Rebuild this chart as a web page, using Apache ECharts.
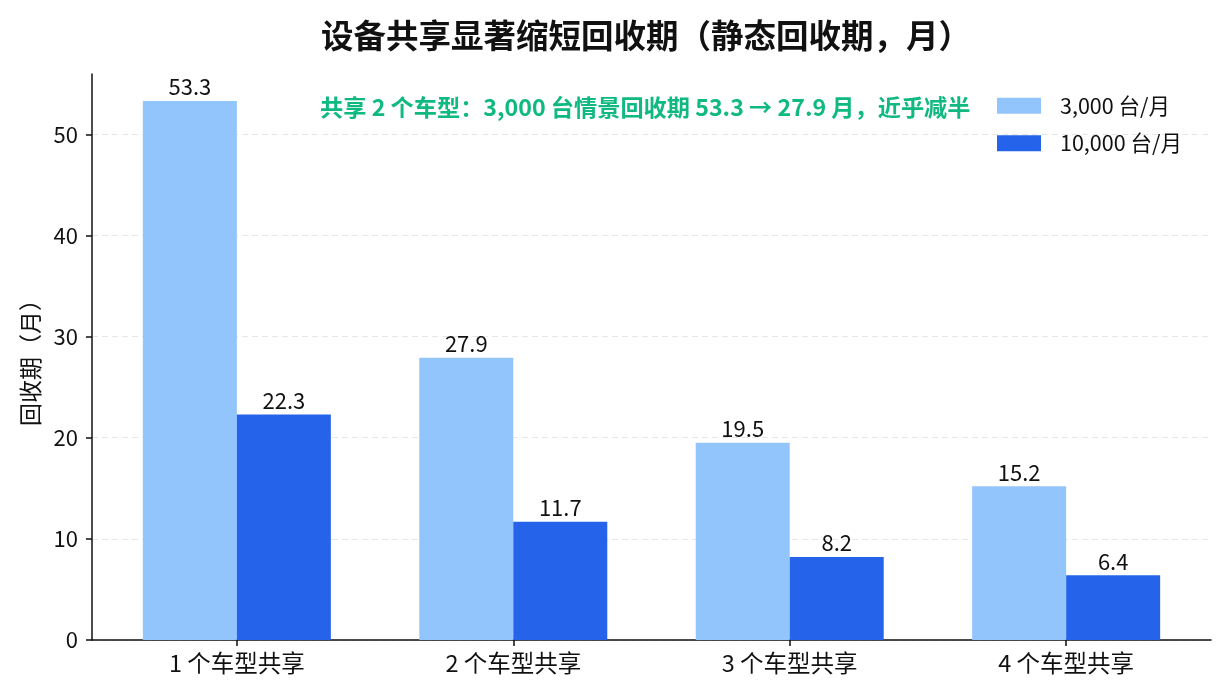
<!DOCTYPE html>
<html><head><meta charset="utf-8">
<script src="https://cdn.jsdelivr.net/npm/echarts@6/dist/echarts.min.js"></script>
<style>html,body{margin:0;padding:0;background:#fff}#c{width:1224px;height:698px}</style>
</head><body><div id="c"></div>
<script>
const categories = ['1 个车型共享','2 个车型共享','3 个车型共享','4 个车型共享'];
const seriesNames = ['3,000 台/月','10,000 台/月'];
const payback3000 = [53.3, 27.9, 19.5, 15.2];
const payback10000 = [22.3, 11.7, 8.2, 6.4];
const yTicks = [0,10,20,30,40,50];
const titleText = '设备共享显著缩短回收期（静态回收期，月）';
const noteText = '共享 2 个车型：3,000 台情景回收期 53.3 → 27.9 月，近乎减半';
const yName = '回收期（月）';

const FONT = '"Noto Sans CJK SC","Noto Sans",sans-serif';
const chart = echarts.init(document.getElementById('c'), null, {renderer:'canvas'});
const idx = categories.map((_, i) => i);
const labelStyle = {show:true, position:'top', distance:3, color:'#111', fontSize:22, fontFamily:FONT, formatter: p => p.value[1].toFixed(1)};
chart.setOption({
  animation:false,
  backgroundColor:'#fff',
  title:{text:titleText, left:641, top:14, textAlign:'center',
    textStyle:{fontSize:32.5, fontWeight:'bold', color:'#111', fontFamily:FONT}},
  legend:{orient:'vertical', left:997, top:95, padding:0, itemWidth:44, itemHeight:16, itemGap:16,
    icon:'rect', textStyle:{fontSize:21.5, lineHeight:20, color:'#111', fontFamily:FONT, padding:[0,0,0,14]},
    data:seriesNames},
  grid:{left:92, right:13, top:74, bottom:58},
  xAxis:{type:'value', min:-0.524, max:3.524,
    axisLine:{show:true, lineStyle:{color:'#111', width:1.5}},
    axisTick:{show:true, customValues:idx, length:6, lineStyle:{color:'#111', width:1.5}},
    axisLabel:{customValues:idx, formatter: v => categories[Math.round(v)], fontSize:23.5, color:'#111', fontFamily:FONT, margin:11},
    splitLine:{show:false}},
  yAxis:{type:'value', min:0, max:53.3*1.05,
    name:yName, nameLocation:'middle', nameGap:50, nameRotate:90,
    nameTextStyle:{fontSize:23, color:'#111', fontFamily:FONT},
    axisLine:{show:true, onZero:false, lineStyle:{color:'#111', width:1.5}},
    axisTick:{show:true, customValues:yTicks, length:6, lineStyle:{color:'#111', width:1.5}},
    axisLabel:{customValues:yTicks, fontSize:22, color:'#111', fontFamily:FONT, margin:14},
    splitLine:{show:true, lineStyle:{color:'#e6e6e6', type:[6,4], width:1.2}}},
  graphic:[{type:'text', left:320, top:96, style:{text:noteText, fontSize:23.2, fontWeight:'bold', fill:'#10b981', fontFamily:FONT}}],
  series:[
    {name:seriesNames[0], type:'bar', barWidth:94, barGap:'0%', data: payback3000.map((v,i)=>[i,v]),
      itemStyle:{color:'#93c5fd'}, label:labelStyle},
    {name:seriesNames[1], type:'bar', barWidth:94, barGap:'0%', data: payback10000.map((v,i)=>[i,v]),
      itemStyle:{color:'#2563eb'}, label:labelStyle}
  ]
});
</script></body></html>
